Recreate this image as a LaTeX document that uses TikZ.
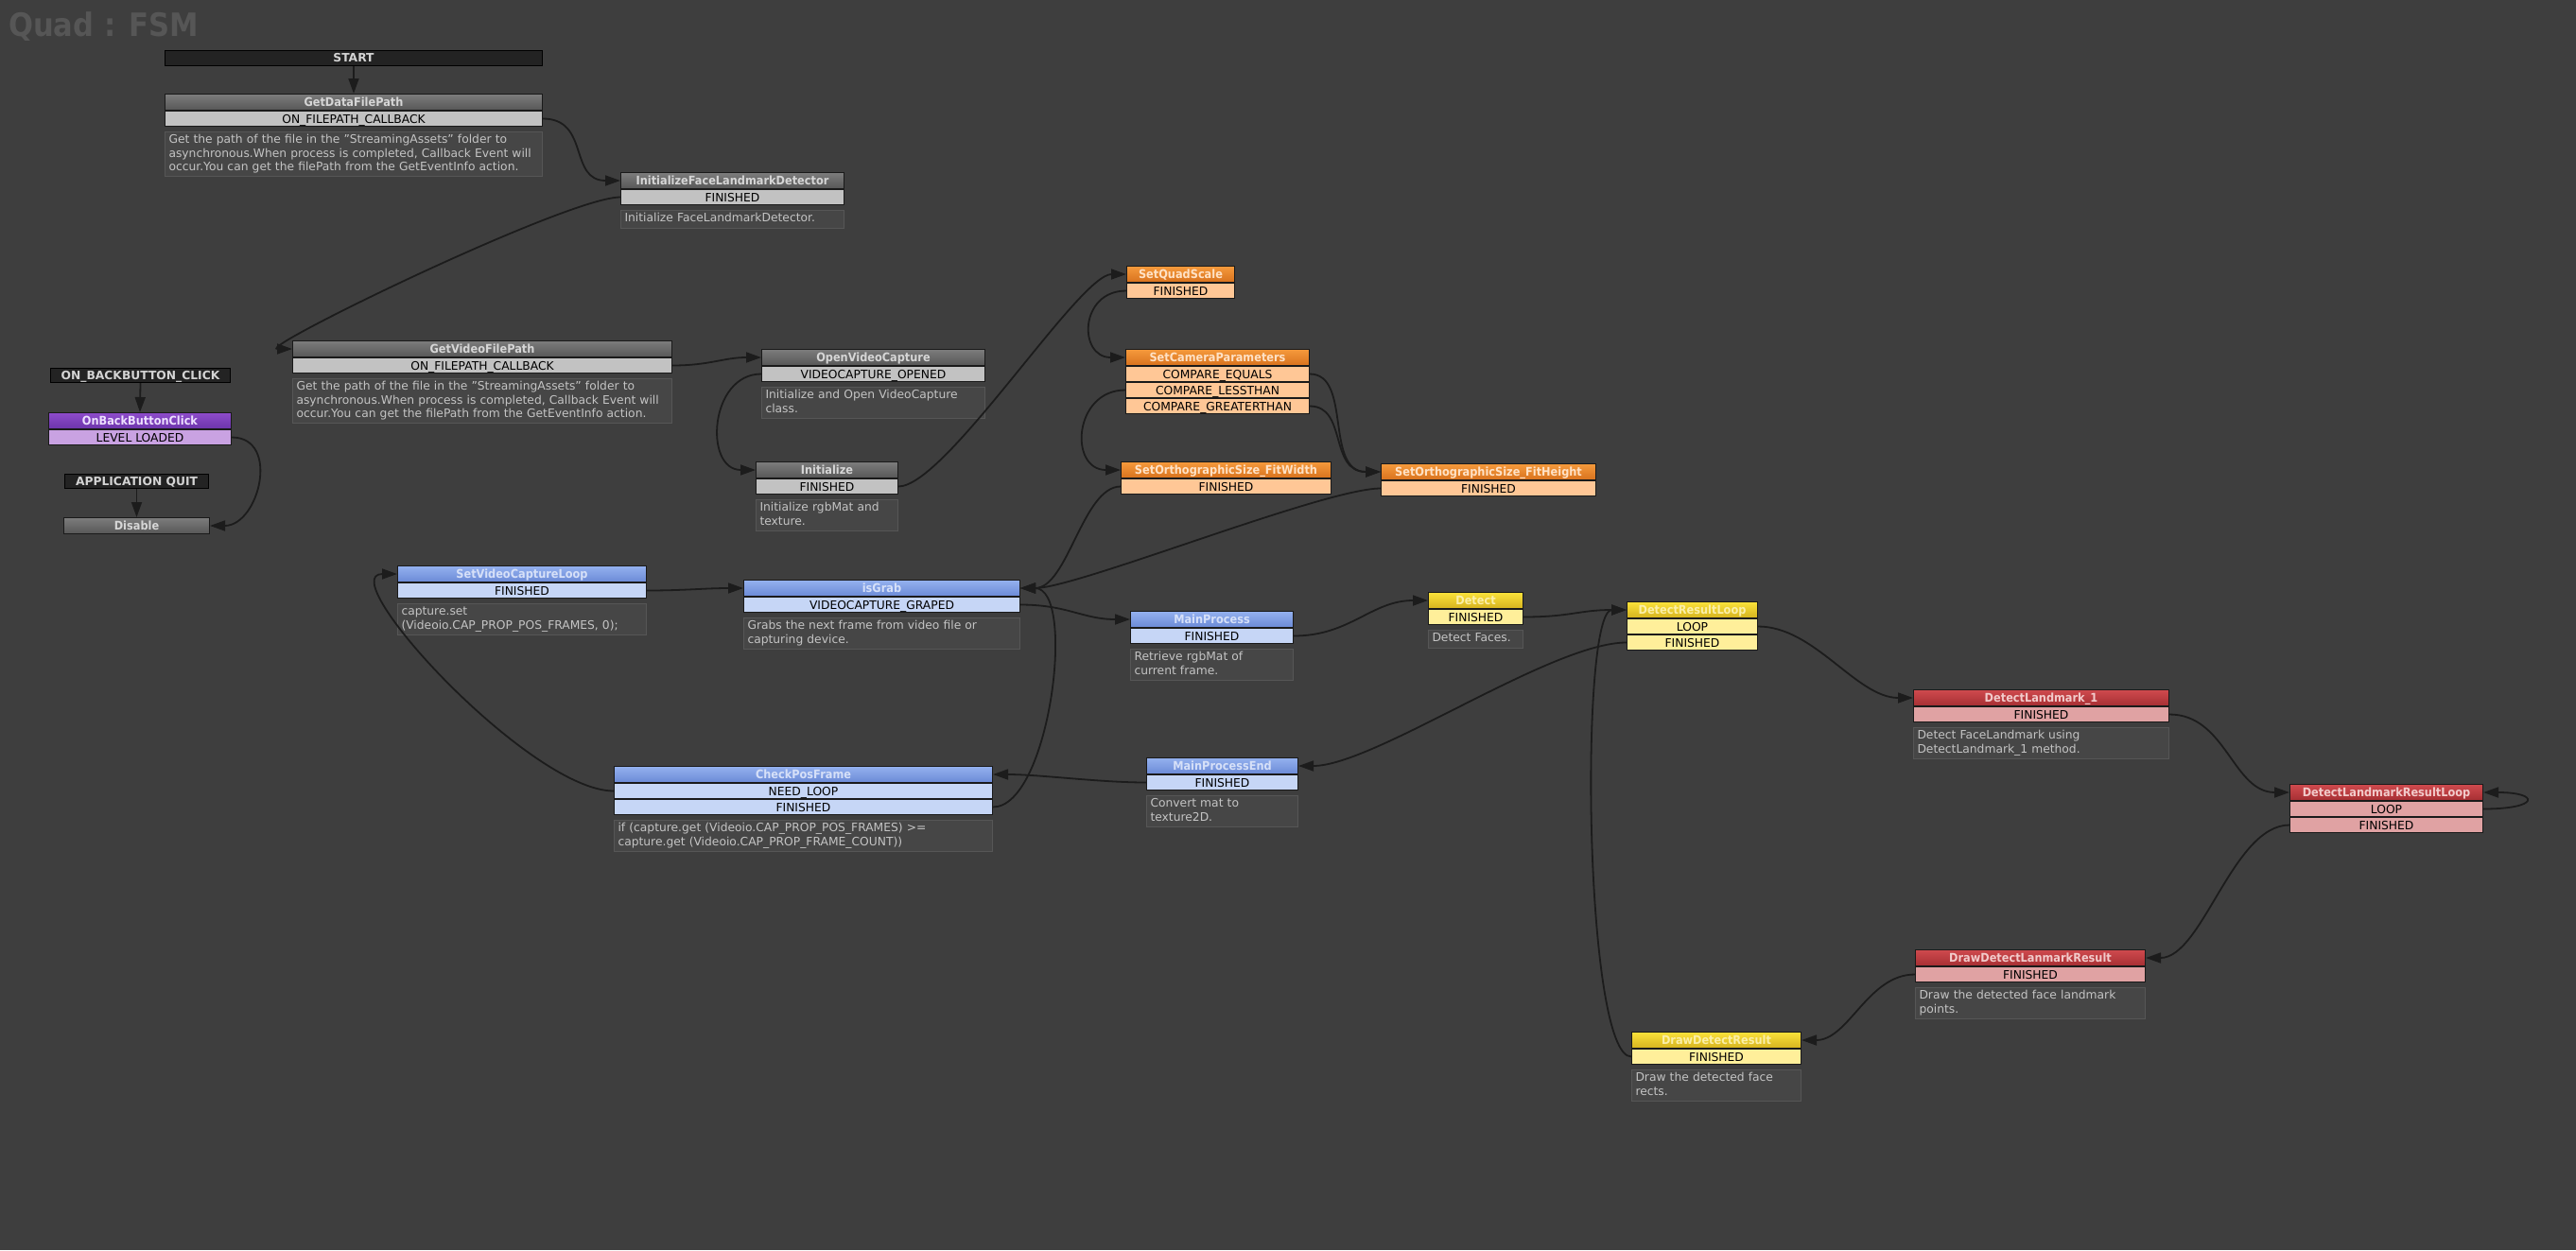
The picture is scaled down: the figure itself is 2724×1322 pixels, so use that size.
\documentclass[tikz,border=0pt]{standalone}
\usepackage{fontspec}
\setmainfont{DejaVu Sans}
\newfontfamily\narrowfont{DejaVu Sans}[FakeStretch=0.9]
\usetikzlibrary{positioning}
\usetikzlibrary{arrows.meta}

\definecolor{canvas}{HTML}{3E3E3E}
\definecolor{wirecol}{HTML}{1C1C1C}
\definecolor{boxline}{HTML}{1A1A1A}
\definecolor{fsmtitle}{HTML}{565656}
\definecolor{globalfill}{HTML}{232323}
\definecolor{globaltext}{HTML}{D4D4D4}
\definecolor{notefill}{HTML}{464646}
\definecolor{noteline}{HTML}{565656}
\definecolor{notetext}{HTML}{C4C4C4}
\definecolor{grayA}{HTML}{7C7C7C}
\definecolor{grayB}{HTML}{575757}
\definecolor{grayT}{HTML}{D6D6D6}
\definecolor{grayE}{HTML}{C2C2C2}
\definecolor{orangeA}{HTML}{F59A3C}
\definecolor{orangeB}{HTML}{D8721E}
\definecolor{orangeT}{HTML}{FFE2C6}
\definecolor{orangeE}{HTML}{FFC796}
\definecolor{blueA}{HTML}{94B1EF}
\definecolor{blueB}{HTML}{6B8AD6}
\definecolor{blueT}{HTML}{D6E0F8}
\definecolor{blueE}{HTML}{C6D6F6}
\definecolor{yellowA}{HTML}{FBE23A}
\definecolor{yellowB}{HTML}{D5B31F}
\definecolor{yellowT}{HTML}{FBEFA8}
\definecolor{yellowE}{HTML}{FFEF9A}
\definecolor{redA}{HTML}{CF4A4E}
\definecolor{redB}{HTML}{A62F33}
\definecolor{redT}{HTML}{F2CBCB}
\definecolor{redE}{HTML}{E0A2A3}
\definecolor{purpleA}{HTML}{8E4CCB}
\definecolor{purpleB}{HTML}{6C34AB}
\definecolor{purpleT}{HTML}{EDE0FF}
\definecolor{purpleE}{HTML}{C9A2E2}

\newcommand{\headfont}{\narrowfont\bfseries\fontsize{12.6}{15}\selectfont}
\newcommand{\globalfont}{\bfseries\fontsize{12.3}{15}\selectfont}
\newcommand{\eventfont}{\fontsize{12.3}{14}\selectfont}
\newcommand{\notefont}{\fontsize{12.3}{14.2}\selectfont}

\begin{document}
\begin{tikzpicture}[x=1pt, y=-1pt,
    head/.style={draw=boxline, line width=1pt, anchor=north west, inner sep=0pt,
        minimum height=17pt, font=\headfont, text height=11pt, text depth=2pt},
    grayhead/.style={head, top color=grayA, bottom color=grayB, text=grayT},
    orangehead/.style={head, top color=orangeA, bottom color=orangeB, text=orangeT},
    bluehead/.style={head, top color=blueA, bottom color=blueB, text=blueT},
    yellowhead/.style={head, top color=yellowA, bottom color=yellowB, text=yellowT},
    redhead/.style={head, top color=redA, bottom color=redB, text=redT},
    purplehead/.style={head, top color=purpleA, bottom color=purpleB, text=purpleT},
    ev/.style={draw=boxline, line width=1pt, inner sep=0pt, minimum height=16pt,
        font=\eventfont, text=black, text height=10.5pt, text depth=1.5pt},
    grayev/.style={ev, fill=grayE},
    orangeev/.style={ev, fill=orangeE},
    blueev/.style={ev, fill=blueE},
    yellowev/.style={ev, fill=yellowE},
    redev/.style={ev, fill=redE},
    purpleev/.style={ev, fill=purpleE},
    global/.style={draw=black, fill=globalfill, text=globaltext, line width=1pt,
        anchor=north west, inner sep=0pt, minimum height=15pt, font=\globalfont,
        text height=10pt, text depth=1.5pt},
    note/.style={draw=noteline, fill=notefill, text=notetext, line width=1pt,
        font=\notefont, align=left, inner xsep=4pt, inner ysep=2.4pt,
        execute at begin node=\strut, execute at end node=\strut},
    wire/.style={draw=wirecol, line width=1.8pt, -{Triangle[length=16pt,width=11pt]}}
]
	% canvas
	\fill[canvas] (0,0) rectangle (2724,1322);
	\node[anchor=base west, inner sep=0pt, text=fsmtitle, font=\narrowfont\bfseries\fontsize{34}{40}\selectfont] (fsmname) at (9,38) {Quad : FSM};

	% global events
	\node[global, minimum width=399pt, minimum height=16pt] (start) at (174,53) {START};
	\node[global, minimum width=190pt] (backclick) at (53,389) {ON\_BACKBUTTON\_CLICK};
	\node[global, minimum width=152pt] (appquit) at (68,501) {APPLICATION QUIT};

	% states
	\node[grayhead, minimum width=399pt] (getdata) at (174,99) {GetDataFilePath};
	\node[grayev, minimum width=399pt, below=0pt of getdata] (getdata-1) {ON\_FILEPATH\_CALLBACK};
	\node[note, text width=391pt, below=5pt of getdata-1] (getdata-n) {Get the path of the file in the "StreamingAssets" folder to\\asynchronous.When process is completed, Callback Event will\\occur.You can get the filePath from the GetEventInfo action.};

	\node[grayhead, minimum width=236pt] (initfld) at (656,182) {InitializeFaceLandmarkDetector};
	\node[grayev, minimum width=236pt, below=0pt of initfld] (initfld-1) {FINISHED};
	\node[note, text width=228pt, below=5pt of initfld-1] (initfld-n) {Initialize FaceLandmarkDetector.};

	\node[grayhead, minimum width=401pt] (getvideo) at (309,360) {GetVideoFilePath};
	\node[grayev, minimum width=401pt, below=0pt of getvideo] (getvideo-1) {ON\_FILEPATH\_CALLBACK};
	\node[note, text width=393pt, below=5pt of getvideo-1] (getvideo-n) {Get the path of the file in the "StreamingAssets" folder to\\asynchronous.When process is completed, Callback Event will\\occur.You can get the filePath from the GetEventInfo action.};

	\node[grayhead, minimum width=236pt] (openvc) at (805,369) {OpenVideoCapture};
	\node[grayev, minimum width=236pt, below=0pt of openvc] (openvc-1) {VIDEOCAPTURE\_OPENED};
	\node[note, text width=228pt, below=5pt of openvc-1] (openvc-n) {Initialize and Open VideoCapture\\class.};

	\node[grayhead, minimum width=150pt] (init) at (799,488) {Initialize};
	\node[grayev, minimum width=150pt, below=0pt of init] (init-1) {FINISHED};
	\node[note, text width=142pt, below=5pt of init-1] (init-n) {Initialize rgbMat and\\texture.};

	\node[orangehead, minimum width=114pt] (quadscale) at (1191,281) {SetQuadScale};
	\node[orangeev, minimum width=114pt, below=0pt of quadscale] (quadscale-1) {FINISHED};

	\node[orangehead, minimum width=194pt] (campar) at (1190,369) {SetCameraParameters};
	\node[orangeev, minimum width=194pt, below=0pt of campar] (campar-1) {COMPARE\_EQUALS};
	\node[orangeev, minimum width=194pt, below=0pt of campar-1] (campar-2) {COMPARE\_LESSTHAN};
	\node[orangeev, minimum width=194pt, below=0pt of campar-2] (campar-3) {COMPARE\_GREATERTHAN};

	\node[orangehead, minimum width=222pt] (fitwidth) at (1185,488) {SetOrthographicSize\_FitWidth};
	\node[orangeev, minimum width=222pt, below=0pt of fitwidth] (fitwidth-1) {FINISHED};

	\node[orangehead, minimum width=227pt] (fitheight) at (1460,490) {SetOrthographicSize\_FitHeight};
	\node[orangeev, minimum width=227pt, below=0pt of fitheight] (fitheight-1) {FINISHED};

	\node[purplehead, minimum width=193pt] (onback) at (51,436) {OnBackButtonClick};
	\node[purpleev, minimum width=193pt, below=0pt of onback] (onback-1) {LEVEL LOADED};

	\node[grayhead, minimum width=154pt] (disable) at (67,547) {Disable};

	\node[bluehead, minimum width=263pt] (loopset) at (420,598) {SetVideoCaptureLoop};
	\node[blueev, minimum width=263pt, below=0pt of loopset] (loopset-1) {FINISHED};
	\node[note, text width=255pt, below=5pt of loopset-1] (loopset-n) {capture.set\\(Videoio.CAP\_PROP\_POS\_FRAMES, 0);};

	\node[bluehead, minimum width=292pt] (isgrab) at (786,613) {isGrab};
	\node[blueev, minimum width=292pt, below=0pt of isgrab] (isgrab-1) {VIDEOCAPTURE\_GRAPED};
	\node[note, text width=284pt, below=5pt of isgrab-1] (isgrab-n) {Grabs the next frame from video file or\\capturing device.};

	\node[bluehead, minimum width=172pt] (mainproc) at (1195,646) {MainProcess};
	\node[blueev, minimum width=172pt, below=0pt of mainproc] (mainproc-1) {FINISHED};
	\node[note, text width=164pt, below=5pt of mainproc-1] (mainproc-n) {Retrieve rgbMat of\\current frame.};

	\node[yellowhead, minimum width=100pt] (detect) at (1510,626) {Detect};
	\node[yellowev, minimum width=100pt, below=0pt of detect] (detect-1) {FINISHED};
	\node[note, text width=92pt, below=5pt of detect-1] (detect-n) {Detect Faces.};

	\node[yellowhead, minimum width=138pt] (resloop) at (1720,636) {DetectResultLoop};
	\node[yellowev, minimum width=138pt, below=0pt of resloop] (resloop-1) {LOOP};
	\node[yellowev, minimum width=138pt, below=0pt of resloop-1] (resloop-2) {FINISHED};

	\node[redhead, minimum width=270pt] (landmark) at (2023,729) {DetectLandmark\_1};
	\node[redev, minimum width=270pt, below=0pt of landmark] (landmark-1) {FINISHED};
	\node[note, text width=262pt, below=5pt of landmark-1] (landmark-n) {Detect FaceLandmark using\\DetectLandmark\_1 method.};

	\node[redhead, minimum width=204pt] (lmloop) at (2421,829) {DetectLandmarkResultLoop};
	\node[redev, minimum width=204pt, below=0pt of lmloop] (lmloop-1) {LOOP};
	\node[redev, minimum width=204pt, below=0pt of lmloop-1] (lmloop-2) {FINISHED};

	\node[redhead, minimum width=243pt] (drawlm) at (2025,1004) {DrawDetectLanmarkResult};
	\node[redev, minimum width=243pt, below=0pt of drawlm] (drawlm-1) {FINISHED};
	\node[note, text width=235pt, below=5pt of drawlm-1] (drawlm-n) {Draw the detected face landmark\\points.};

	\node[yellowhead, minimum width=179pt] (drawres) at (1725,1091) {DrawDetectResult};
	\node[yellowev, minimum width=179pt, below=0pt of drawres] (drawres-1) {FINISHED};
	\node[note, text width=171pt, below=5pt of drawres-1] (drawres-n) {Draw the detected face\\rects.};

	\node[bluehead, minimum width=160pt] (mpend) at (1212,801) {MainProcessEnd};
	\node[blueev, minimum width=160pt, below=0pt of mpend] (mpend-1) {FINISHED};
	\node[note, text width=152pt, below=5pt of mpend-1] (mpend-n) {Convert mat to\\texture2D.};

	\node[bluehead, minimum width=400pt] (checkpos) at (649,810) {CheckPosFrame};
	\node[blueev, minimum width=400pt, below=0pt of checkpos] (checkpos-1) {NEED\_LOOP};
	\node[blueev, minimum width=400pt, below=0pt of checkpos-1] (checkpos-2) {FINISHED};
	\node[note, text width=392pt, below=5pt of checkpos-2] (checkpos-n) {if (capture.get (Videoio.CAP\_PROP\_POS\_FRAMES) >=\\capture.get (Videoio.CAP\_PROP\_FRAME\_COUNT))};

	% transitions
	\draw[wire] (start.south) -- (getdata.north);
	\draw[wire] (getdata-1.east) .. controls +(50,0) and +(-55,0) .. (initfld.west);
	\draw[wire] (initfld-1.west) .. controls +(-56,0) and +(-39,0) .. (getvideo.west);
	\draw[wire] (getvideo-1.east) .. controls +(40,0) and +(-40,0) .. (openvc.west);
	\draw[wire] (openvc-1.west) .. controls +(-55,0) and +(-55,0) .. (init.west);
	\draw[wire] (init-1.east) .. controls +(50,0) and +(-50,0) .. (quadscale.west);
	\draw[wire] (quadscale-1.west) .. controls +(-50,0) and +(-50,0) .. (campar.west);
	\draw[wire] (campar-2.west) .. controls +(-55,0) and +(-55,0) .. (fitwidth.west);
	\draw[wire] (campar-1.east) .. controls +(45,0) and +(-60,0) .. (fitheight.west);
	\draw[wire] (campar-3.east) .. controls +(40,0) and +(-55,0) .. (fitheight.west);
	\draw[wire] (fitwidth-1.west) .. controls +(-40,0) and +(50,0) .. (isgrab.east);
	\draw[wire] (fitheight-1.west) .. controls +(-60,0) and +(60,0) .. (isgrab.east);
	\draw[wire] (checkpos-2.east) .. controls +(60,0) and +(60,0) .. (isgrab.east);
	\draw[wire] (loopset-1.east) .. controls +(40,0) and +(-40,0) .. (isgrab.west);
	\draw[wire] (isgrab-1.east) .. controls +(50,0) and +(-50,0) .. (mainproc.west);
	\draw[wire] (mainproc-1.east) .. controls +(60,0) and +(-60,0) .. (detect.west);
	\draw[wire] (detect-1.east) .. controls +(50,0) and +(-50,0) .. (resloop.west);
	\draw[wire] (resloop-1.east) .. controls +(60,0) and +(-60,0) .. (landmark.west);
	\draw[wire] (resloop-2.west) .. controls +(-80,0) and +(80,0) .. (mpend.east);
	\draw[wire] (mpend-1.west) .. controls +(-50,0) and +(50,0) .. (checkpos.east);
	\draw[wire] (checkpos-1.west) .. controls +(-89,0) and +(-70,0) .. (loopset.west);
	\draw[wire] (landmark-1.east) .. controls +(60,0) and +(-60,0) .. (lmloop.west);
	\draw[wire] (lmloop-1.east) .. controls +(60,0) and +(60,0) .. (lmloop.east);
	\draw[wire] (lmloop-2.west) .. controls +(-60,0) and +(60,0) .. (drawlm.east);
	\draw[wire] (drawlm-1.west) .. controls +(-50,0) and +(50,0) .. (drawres.east);
	\draw[wire] (drawres-1.west) .. controls +(-50,0) and +(-50,0) .. (resloop.west);
	\draw[wire] (backclick.south) -- (onback.north);
	\draw[wire] (appquit.south) -- (disable.north);
	\draw[wire] (onback-1.east) .. controls +(52,0) and +(52,0) .. (disable.east);
\end{tikzpicture}
\end{document}
